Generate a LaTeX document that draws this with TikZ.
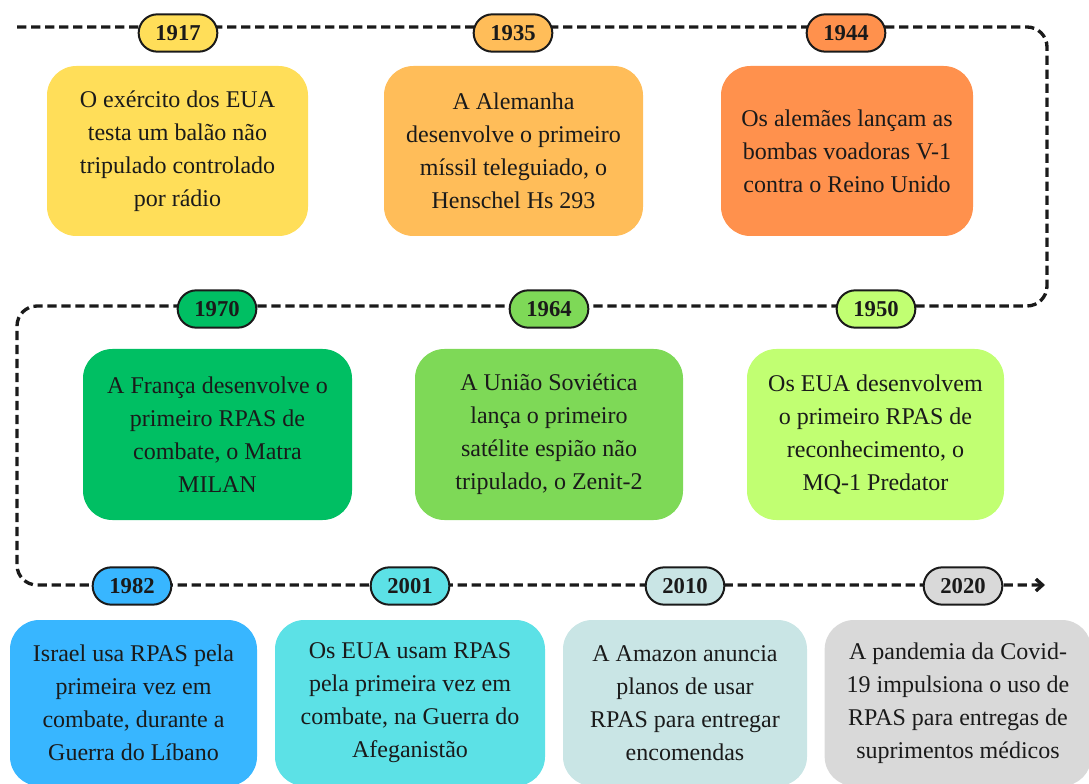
\documentclass[tikz,border=0pt]{standalone}
\usepackage{fontspec}
\setmainfont{Liberation Serif}
\usetikzlibrary{arrows.meta,shapes.misc}
\definecolor{cY}{HTML}{FFDE59}
\definecolor{cO}{HTML}{FFBD59}
\definecolor{cR}{HTML}{FF914D}
\definecolor{cG}{HTML}{00BF63}
\definecolor{cL}{HTML}{7ED957}
\definecolor{cP}{HTML}{C1FF72}
\definecolor{cB}{HTML}{38B6FF}
\definecolor{cC}{HTML}{5CE1E6}
\definecolor{cT}{HTML}{C9E5E5}
\definecolor{cS}{HTML}{D9D9D9}
\definecolor{txt}{HTML}{1A1A1A}
\begin{document}
\begin{tikzpicture}[x=0.75pt,y=-0.75pt,
  box/.style={rounded corners=22pt, inner sep=0pt, align=center, text=txt,
    font=\fontsize{18}{24.75}\selectfont},
  year/.style={rounded rectangle, draw=txt, line width=1.5pt, minimum width=59pt,
    minimum height=28pt, inner sep=0pt, text=txt, font=\fontsize{17}{19}\selectfont\bfseries},
  tl/.style={draw=txt, line width=2.5pt, dash pattern=on 7pt off 3.5pt, rounded corners=15pt,
    -{Straight Barb[length=5pt,width=9pt,line width=2.5pt]}}]
\useasboundingbox (0,0) rectangle (1089,784);
\clip (0,0) rectangle (1089,784);
% timeline
\coordinate (s) at (17,27);
\coordinate (c1) at (1047,27);
\coordinate (c2) at (1047,306);
\coordinate (c3) at (17,306);
\coordinate (c4) at (17,585);
\coordinate (e) at (1045,585);
\draw[tl] (s) -- (c1) -- (c2) -- (c3) -- (c4) -- (e);
% years
\node[year, fill=cY] (y1917) at (178,33) {1917};
\node[year, fill=cO] (y1935) at (513,33) {1935};
\node[year, fill=cR] (y1944) at (846,33) {1944};
\node[year, fill=cG] (y1970) at (217,309) {1970};
\node[year, fill=cL] (y1964) at (549,309) {1964};
\node[year, fill=cP] (y1950) at (876,309) {1950};
\node[year, fill=cB] (y1982) at (132,586) {1982};
\node[year, fill=cC] (y2001) at (410,586) {2001};
\node[year, fill=cT] (y2010) at (685,586) {2010};
\node[year, fill=cS] (y2020) at (963,586) {2020};
% row 1 boxes
\node[box, fill=cY, minimum width=195.75pt, minimum height=127.5pt] (b1917) at (177.5,151)
  {O exército dos EUA\\testa um balão não\\tripulado controlado\\por rádio};
\node[box, fill=cO, minimum width=194.25pt, minimum height=127.5pt] (b1935) at (513.5,151)
  {A Alemanha\\desenvolve o primeiro\\míssil teleguiado, o\\Henschel Hs 293};
\node[box, fill=cR, minimum width=189pt, minimum height=127.5pt] (b1944) at (847,151)
  {Os alemães lançam as\\bombas voadoras V-1\\contra o Reino Unido};
% row 2 boxes
\node[box, fill=cG, minimum width=201.75pt, minimum height=128.25pt] (b1970) at (217.5,434.5)
  {A França desenvolve o\\primeiro RPAS de\\combate, o Matra\\MILAN};
\node[box, fill=cL, minimum width=201pt, minimum height=128.25pt] (b1964) at (549,434.5)
  {A União Soviética\\lança o primeiro\\satélite espião não\\tripulado, o Zenit-2};
\node[box, fill=cP, minimum width=192.75pt, minimum height=128.25pt] (b1950) at (875.5,434.5)
  {Os EUA desenvolvem\\o primeiro RPAS de\\reconhecimento, o\\MQ-1 Predator};
% row 3 boxes
\node[box, fill=cB, minimum width=185.25pt, minimum height=124.5pt] (b1982) at (133.5,703)
  {Israel usa RPAS pela\\primeira vez em\\combate, durante a\\Guerra do Líbano};
\node[box, fill=cC, minimum width=202.5pt, minimum height=124.5pt] (b2001) at (410,703)
  {Os EUA usam RPAS\\pela primeira vez em\\combate, na Guerra do\\Afeganistão};
\node[box, fill=cT, minimum width=183pt, minimum height=124.5pt] (b2010) at (685,703)
  {A Amazon anuncia\\planos de usar\\RPAS para entregar\\encomendas};
\node[box, fill=cS, minimum width=200pt, minimum height=124.5pt] (b2020) at (958,703)
  {A pandemia da Covid-\\19 impulsiona o uso de\\RPAS para entregas de\\suprimentos médicos};
\end{tikzpicture}
\end{document}
